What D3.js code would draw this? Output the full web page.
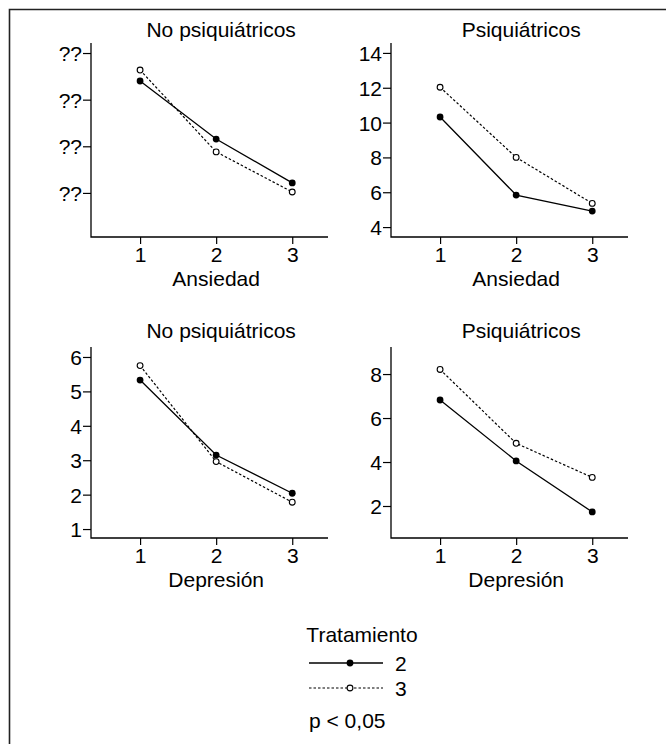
<!DOCTYPE html>
<html>
<head>
<meta charset="utf-8">
<script src="https://cdn.jsdelivr.net/npm/d3@7"></script>
<style>
  body { margin: 0; background: #fff; }
  text { font-family: "Liberation Sans", Arial, Helvetica, sans-serif; fill: #000; }
</style>
</head>
<body>
<div id="chart"></div>
<script>
var times = [1, 2, 3];

var titles = ["No psiquiátricos", "Psiquiátricos", "No psiquiátricos", "Psiquiátricos"];
var xLabels = ["Ansiedad", "Ansiedad", "Depresión", "Depresión"];

// tratamiento 2 (filled) and 3 (open)
var trat2 = [
  [6.8, 4.31, 2.43],
  [10.32, 5.84, 4.92],
  [5.33, 3.15, 2.04],
  [6.82, 4.05, 1.73]
];
var trat3 = [
  [7.27, 3.76, 2.04],
  [12.03, 8.0, 5.36],
  [5.75, 2.96, 1.78],
  [8.21, 4.85, 3.3]
];

var yTicks = [
  [2, 4, 6, 8],
  [4, 6, 8, 10, 12, 14],
  [1, 2, 3, 4, 5, 6],
  [2, 4, 6, 8]
];
var yTickLabels = [
  ["??", "??", "??", "??"],
  ["4", "6", "8", "10", "12", "14"],
  ["1", "2", "3", "4", "5", "6"],
  ["2", "4", "6", "8"]
];
var yDomains = [
  [0.11, 8.43],
  [3.43, 14.57],
  [0.74, 6.29],
  [0.545, 9.23]
];

var legendTitle = "Tratamiento";
var legendLabels = ["2", "3"];
var note = "p < 0,05";

var svgWidth = 666;
var svgHeight = 744;

var panels = [
  { left: 91, right: 328, top: 43, bottom: 237, titleY: 37 },
  { left: 391, right: 628, top: 43, bottom: 237, titleY: 37 },
  { left: 91, right: 328, top: 347, bottom: 538, titleY: 338 },
  { left: 391, right: 628, top: 347, bottom: 538, titleY: 338 }
];

var svg = d3.select("#chart")
  .append("svg")
  .attr("width", svgWidth)
  .attr("height", svgHeight);

// frame (only top and left edges are visible)
svg.append("path")
  .attr("d", "M9.5,744V9.5H666")
  .attr("fill", "none")
  .attr("stroke", "#222")
  .attr("stroke-width", 1.6);

var fontSize = 21;

panels.forEach(function(p, i) {
  var x = d3.scaleLinear()
    .domain([0.355, 3.47])
    .range([p.left, p.right]);

  var y = d3.scaleLinear()
    .domain(yDomains[i])
    .range([p.bottom, p.top]);

  var g = svg.append("g");

  // L shaped box
  g.append("path")
    .attr("d", "M" + p.left + "," + p.top + "V" + p.bottom + "H" + p.right)
    .attr("fill", "none")
    .attr("stroke", "#000")
    .attr("stroke-width", 1.3);

  var xAxis = g.append("g")
    .attr("transform", "translate(0," + p.bottom + ")")
    .call(d3.axisBottom(x).tickValues(times).tickFormat(d3.format("d")).tickSize(7).tickPadding(3));
  xAxis.select(".domain").remove();

  var labels = yTickLabels[i];
  var yAxis = g.append("g")
    .attr("transform", "translate(" + p.left + ",0)")
    .call(d3.axisLeft(y).tickValues(yTicks[i])
      .tickFormat(function(d, k) { return labels[k]; })
      .tickSize(8).tickPadding(1));
  yAxis.select(".domain").remove();

  g.selectAll(".tick line").attr("stroke", "#000").attr("stroke-width", 1.2);
  g.selectAll(".tick text")
    .attr("font-size", fontSize)
    .attr("font-family", "Liberation Sans, Arial, sans-serif");
  yAxis.selectAll(".tick text").attr("dy", "0.36em");

  g.append("text")
    .attr("x", x(2) + 5)
    .attr("y", p.titleY)
    .attr("text-anchor", "middle")
    .attr("font-size", fontSize)
    .text(titles[i]);

  g.append("text")
    .attr("x", x(2))
    .attr("y", p.bottom + 49)
    .attr("text-anchor", "middle")
    .attr("font-size", fontSize)
    .text(xLabels[i]);

  var line = d3.line()
    .x(function(d, k) { return x(times[k]); })
    .y(function(d) { return y(d); });

  g.append("path")
    .datum(trat2[i])
    .attr("d", line)
    .attr("fill", "none")
    .attr("stroke", "#000")
    .attr("stroke-width", 1.3);

  g.append("path")
    .datum(trat3[i])
    .attr("d", line)
    .attr("fill", "none")
    .attr("stroke", "#000")
    .attr("stroke-width", 1.2)
    .attr("stroke-dasharray", "2.5,2");

  g.selectAll(".dot2")
    .data(trat2[i])
    .enter()
    .append("circle")
    .attr("cx", function(d, k) { return x(times[k]); })
    .attr("cy", function(d) { return y(d); })
    .attr("r", 3.4)
    .attr("fill", "#000");

  g.selectAll(".dot3")
    .data(trat3[i])
    .enter()
    .append("circle")
    .attr("cx", function(d, k) { return x(times[k]); })
    .attr("cy", function(d) { return y(d); })
    .attr("r", 2.9)
    .attr("fill", "#fff")
    .attr("stroke", "#000")
    .attr("stroke-width", 1.1);
});

// legend
var legend = svg.append("g");

legend.append("text")
  .attr("x", 362)
  .attr("y", 642)
  .attr("text-anchor", "middle")
  .attr("font-size", fontSize)
  .text(legendTitle);

legendLabels.forEach(function(lab, k) {
  var ly = 663 + k * 25;
  legend.append("line")
    .attr("x1", 309).attr("x2", 383)
    .attr("y1", ly).attr("y2", ly)
    .attr("stroke", "#000")
    .attr("stroke-width", k === 0 ? 1.3 : 1.2)
    .attr("stroke-dasharray", k === 0 ? null : "2.5,2");
  legend.append("circle")
    .attr("cx", 350).attr("cy", ly)
    .attr("r", k === 0 ? 3.4 : 2.9)
    .attr("fill", k === 0 ? "#000" : "#fff")
    .attr("stroke", k === 0 ? null : "#000")
    .attr("stroke-width", 1.1);
  legend.append("text")
    .attr("x", 395)
    .attr("y", ly + 8)
    .attr("font-size", fontSize)
    .text(lab);
});

legend.append("text")
  .attr("x", 309)
  .attr("y", 728)
  .attr("font-size", fontSize)
  .text(note);
</script>
</body>
</html>
